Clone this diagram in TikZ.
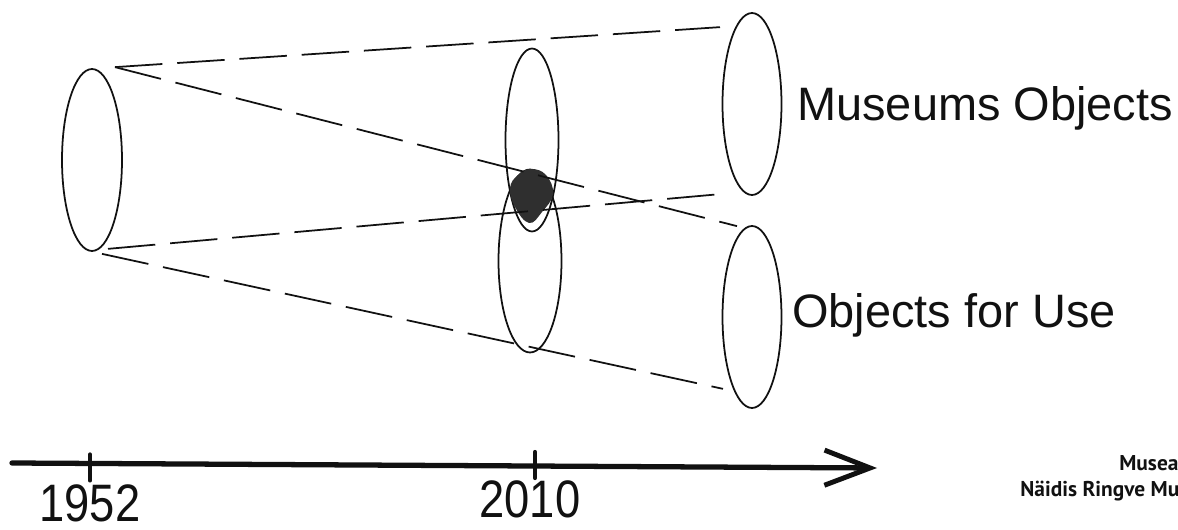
\documentclass[tikz,border=0pt]{standalone}
\usepackage{fontspec}
\setmainfont{Liberation Sans}
\newfontfamily\notefont{PT Sans}
\usepackage{tikz}
\usetikzlibrary{positioning,arrows.meta,calc,shapes.geometric}
\definecolor{cInk}{HTML}{111111}
\definecolor{cBlob}{HTML}{2F2F2F}

\begin{document}
\begin{tikzpicture}[
  x=0.02cm, y=-0.02cm,
  every node/.style={inner sep=0pt, text=cInk},
  span/.style={draw=cInk, line width=1pt, ellipse, minimum width=1.18cm, minimum height=3.64cm},
  guide/.style={draw=cInk, line width=1pt, dash pattern=on 27pt off 8.5pt},
  axis/.style={draw=cInk, line width=3pt, line cap=round,
               -{Straight Barb[length=26pt, width=20pt, line width=2.8pt]}},
  tick/.style={draw=cInk, line width=2.4pt, line cap=round},
  year/.style={font=\fontsize{30}{30}\selectfont, anchor=base},
  tag/.style={font=\fontsize{26.7}{28}\selectfont, anchor=base west},
  credit/.style={font=\notefont\bfseries\fontsize{21}{24}\selectfont, anchor=base west},
]
  \useasboundingbox (0,0) rectangle (1178,530);

  % ellipses
  \node[span, minimum width=1.2cm] (past) at (92,160) {};
  \node[span, minimum width=1.06cm, minimum height=3.66cm] (nowTop) at (532,140) {};
  \node[span, minimum width=1.26cm, minimum height=3.66cm] (nowBot) at (530,261) {};
  \node[span] (museum) at (752,104) {};
  \node[span] (use) at (752,317) {};

  % overlap
  \fill[cBlob] plot[smooth cycle, tension=0.7] coordinates
    {(531,169) (546,175) (553,194) (542,212) (529,223) (515,207) (510,188) (518,175)};

  % ends of the dashed lines
  \coordinate (pastTop)  at ($(past.north)+(23,-1)$);
  \coordinate (pastBotA) at ($(past.south)+(16,-3)$);
  \coordinate (pastBotB) at ($(past.south)+(10,2)$);
  \coordinate (museumTop) at ($(museum.north)+(-32,15)$);
  \coordinate (museumBot) at ($(museum.south)+(-29,-2)$);
  \coordinate (useTop) at ($(use.north)+(-15,1)$);
  \coordinate (useBot) at ($(use.south)+(-29,-20)$);

  \draw[guide] (pastTop) -- (museumTop);
  \draw[guide] (pastTop) -- (useTop);
  \draw[guide] (pastBotA) -- (museumBot);
  \draw[guide] (pastBotB) -- (useBot);

  \node[tag] (lblMuseum) at (797,121) {Museums Objects};
  \node[tag] (lblUse) at (792,328) {Objects for Use};

  % time line
  \coordinate (tStart) at (12,463);
  \coordinate (tEnd) at (877,468);
  \draw[axis] (tStart) -- (tEnd);
  \coordinate (t1952) at ($(tStart)!0.0902!(tEnd)$);
  \coordinate (t2010) at ($(tStart)!0.6046!(tEnd)$);
  \draw[tick] ($(t1952)+(0,-9)$) -- ($(t1952)+(0,17)$);
  \draw[tick] ($(t2010)+(0,-14)$) -- ($(t2010)+(0,12)$);

  \node[year] (lab1952) at (90,521) {\scalebox{0.86}[1]{1952}};
  \node[year] (lab2010) at (530,518) {\scalebox{0.86}[1]{2010}};

  \node[credit] (noteA) at (1119,471) {\scalebox{0.58}{Musea}};
  \node[credit] (noteB) at (1020,497) {\scalebox{0.58}{Näidis Ringve Mu}};
\end{tikzpicture}
\end{document}
